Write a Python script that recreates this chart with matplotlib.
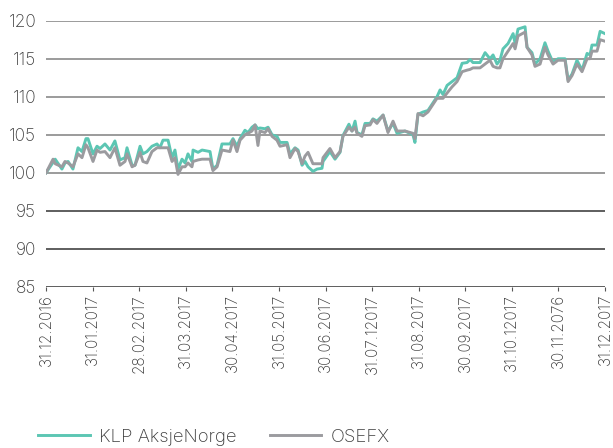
import matplotlib
matplotlib.use("Agg")
import matplotlib.pyplot as plt
import numpy as np

# Days since 31.12.2016
days = [0, 4.6, 6, 10.4, 12.4, 14.4, 17.6, 20.9, 23.5, 26.1, 27.4, 30.7, 33.3, 35.3,
        38.5, 41.8, 45, 48.3, 51.6, 52.9, 56.2, 58.1, 61.4, 63.3, 65.9, 69.2, 72.5,
        74.4, 76.4, 79.7, 82.3, 84.2, 86.2, 88.8, 90.8, 92.7, 95.3, 96, 99.3, 101.9,
        107.1, 109, 111.7, 114.9, 120.1, 122.1, 124.7, 126.7, 129.9, 131.9, 134.5,
        136.5, 138.4, 139.7, 143, 145, 147.6, 150.8, 152.8, 157.4, 159.3, 162.6, 164.6,
        167.2, 169.1, 171.1, 174.3, 177, 180.2, 180.9, 185.4, 188.7, 192, 193.9, 197.8,
        199.8, 201.8, 203.1, 206.3, 208.3, 211.6, 213.5, 216.1, 220.1, 223.3, 226.6,
        229.2, 234.4, 239.6, 240.9, 242.9, 246.2, 249.4, 252, 255.3, 257.3, 259.2,
        261.9, 265.1, 268.4, 271.7, 274.9, 276.9, 278.8, 283.4, 286.7, 289.9, 291.9,
        294.5, 296.4, 298.4, 301.7, 305, 306.3, 308.2, 312.8, 314.1, 317.3, 319.3,
        322.6, 325.8, 327.8, 331.1, 334.3, 338.9, 340.9, 343.5, 346.7, 350, 353.3,
        355.2, 356.5, 359.8, 361.8, 365]

klp = [100, 101.4, 101.8, 100.5, 101.3, 101.5, 100.5, 103.3, 102.8, 104.5, 104.5, 102.5,
       103.5, 103.2, 103.8, 103.0, 104.2, 101.7, 102.0, 103.3, 101.0, 101.0, 103.5, 102.5,
       102.8, 103.5, 103.8, 103.3, 104.3, 104.3, 102.0, 103.0, 100.5, 101.8, 101.3, 102.5,
       101.5, 103.0, 102.7, 103.0, 102.8, 100.5, 101.0, 103.8, 103.8, 104.5, 103.5, 104.5,
       105.6, 105.3, 106.0, 106.3, 105.8, 105.9, 105.8, 106.0, 105.0, 104.8, 104.0, 104.0,
       102.5, 103.3, 103.0, 101.0, 101.5, 100.8, 100.2, 100.5, 100.6, 101.5, 102.8, 101.8,
       102.7, 104.9, 106.4, 105.5, 106.8, 105.3, 105.0, 106.5, 106.5, 107.1, 106.8, 107.6,
       105.5, 106.5, 105.2, 105.5, 105.0, 104.0, 107.7, 108.0, 108.2, 109.0, 110.0, 110.9,
       110.3, 111.5, 112.0, 112.5, 114.4, 114.5, 114.9, 114.5, 114.5, 115.8, 115.0, 115.5,
       114.3, 114.8, 116.3, 117.0, 118.3, 117.0, 118.9, 119.2, 116.5, 115.8, 114.3, 115.0,
       117.1, 116.0, 114.5, 115.0, 115.0, 112.2, 113.0, 114.8, 113.5, 115.7, 115.5, 116.8,
       116.8, 118.6, 118.3]

osefx = [100, 101.8, 101.2, 100.8, 101.5, 101.3, 100.8, 102.5, 102.0, 103.7, 103.3, 101.5,
         103.0, 102.7, 102.8, 102.0, 103.3, 101.0, 101.5, 102.5, 100.8, 101.0, 102.7, 101.5,
         101.3, 102.8, 103.3, 103.3, 103.3, 103.3, 101.5, 102.0, 99.8, 100.8, 100.8, 101.3,
         100.8, 101.5, 101.7, 101.8, 101.8, 100.3, 100.8, 103.0, 102.8, 104.3, 102.8, 104.3,
         105.0, 105.2, 105.5, 106.3, 103.6, 105.5, 105.3, 105.8, 104.8, 104.3, 103.5, 103.7,
         102.0, 103.2, 102.8, 101.2, 102.2, 102.7, 101.2, 101.2, 101.2, 102.0, 103.2, 102.0,
         102.8, 104.8, 106.0, 105.5, 106.0, 105.2, 104.8, 106.2, 106.3, 107.0, 106.5, 107.6,
         105.3, 106.8, 105.5, 105.5, 105.2, 104.5, 107.8, 107.5, 108.0, 108.8, 109.8, 109.8,
         109.8, 110.5, 111.3, 112.0, 113.3, 113.5, 113.6, 113.8, 113.8, 114.3, 114.8, 114.0,
         113.8, 113.8, 115.0, 116.0, 117.0, 116.3, 118.0, 118.5, 116.5, 115.5, 114.0, 114.3,
         116.5, 115.5, 114.3, 114.8, 114.8, 112.0, 112.8, 114.3, 113.3, 115.0, 115.0, 116.0,
         116.0, 117.5, 117.3]

tick_labels = ["31.12.2016", "31.01.2017", "28.02.2017", "31.03.2017", "30.04.2017",
               "31.05.2017", "30.06.2017", "31.07.12017", "31.08.2017", "30.09.2017",
               "31.10.12017", "30.11.2076", "31.12.2017"]
y_ticks = [85, 90, 95, 100, 105, 110, 115, 120]
series_names = ["KLP AksjeNorge", "OSEFX"]

plt.rcParams["font.family"] = ["Inter", "DejaVu Sans"]
text_color = "#3c3c3c"
teal = "#5cc6b3"
grey = "#9b9b9f"

fig = plt.figure(figsize=(6.13, 4.48), dpi=100)
ax = fig.add_axes([46 / 613, 1 - 287 / 448, 559 / 613, (287 - 20.7) / 448])

# Horizontal reference lines: lighter at and above 100, darker below
for v in y_ticks:
    ax.axhline(v, color="#808080" if v >= 100 else "#333333", lw=1.1, zorder=1)

ax.plot(days, klp, color=teal, lw=2.1, label=series_names[0], zorder=2)
ax.plot(days, osefx, color=grey, lw=2.1, label=series_names[1], zorder=3)

ax.set_xlim(0, 365)
ax.set_ylim(85, 120)
ax.set_yticks(y_ticks)
ax.set_yticklabels([str(v) for v in y_ticks], fontsize=12.5, color=text_color,
                   fontweight="light")
ax.set_xticks(np.linspace(0, 365, len(tick_labels)))
ax.set_xticklabels(tick_labels, rotation=90, fontsize=11, color=text_color,
                   fontweight="light")
ax.tick_params(axis="y", length=0, pad=7)
ax.tick_params(axis="x", length=3, width=0.8, color="#555555", pad=2)
for s in ax.spines.values():
    s.set_visible(False)
ax.patch.set_alpha(0)

leg = fig.legend(loc="center left", bbox_to_anchor=(38 / 613, 11 / 448), ncol=2,
                 frameon=False, handlelength=2.8, columnspacing=1.8,
                 handletextpad=0.5, borderpad=0, borderaxespad=0,
                 labelcolor=text_color, prop={"weight": "light", "size": 13.3})

fig.savefig("out.png", dpi=100)
